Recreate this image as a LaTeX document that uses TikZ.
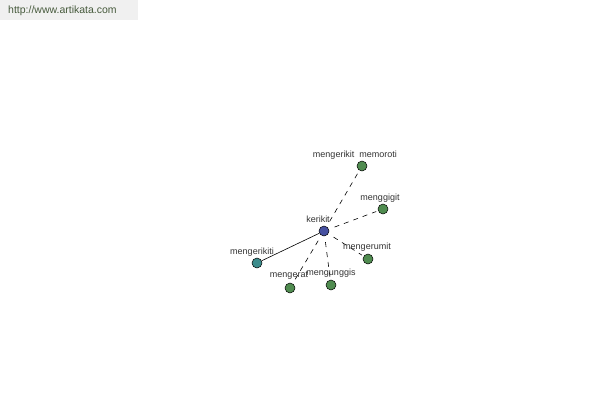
\documentclass[tikz,border=0pt]{standalone}
\usepackage{fontspec}
\setmainfont{Liberation Sans}
\begin{document}
\begin{tikzpicture}[x=1pt,y=-1pt,
  dot/.style={circle,draw=black,line width=0.5pt,minimum size=10pt,inner sep=0pt},
  lbl/.style={font=\fontsize{9}{10}\selectfont,text=black!80,inner sep=0pt},
  dsh/.style={dashed,dash pattern=on 5pt off 5pt,line width=0.6pt,shorten <=6pt,shorten >=2pt},
  sol/.style={line width=0.6pt}]
\useasboundingbox (0,0) rectangle (600,400);
\fill[black!6] (0,0) rectangle (138,20);
\node[font=\fontsize{10.5}{12}\selectfont,text={rgb,255:red,70;green,90;blue,60},anchor=west,inner sep=0pt] (url) at (8,11) {http://www.artikata.com};
\node[dot,fill={rgb,255:red,70;green,80;blue,160}] (c) at (324,231) {};
\node[dot,fill={rgb,255:red,80;green,140;blue,80}] (a) at (362,166) {};
\node[dot,fill={rgb,255:red,80;green,140;blue,80}] (b) at (383,209) {};
\node[dot,fill={rgb,255:red,80;green,140;blue,80}] (d) at (368,259) {};
\node[dot,fill={rgb,255:red,80;green,140;blue,80}] (e) at (331,285) {};
\node[dot,fill={rgb,255:red,80;green,140;blue,80}] (f) at (290,288) {};
\node[dot,fill={rgb,255:red,60;green,140;blue,140}] (g) at (257,263) {};
\draw[dsh] (c) -- (a);
\draw[dsh] (c) -- (b);
\draw[dsh] (c) -- (d);
\draw[dsh] (c) -- (e);
\draw[dsh] (c) -- (f);
\draw[sol] (c) -- (g);
\node[lbl] (lc) at (318,219) {kerikit};
\node[lbl] (la) at (355,155) {mengerikit\ \ memoroti};
\node[lbl] (lb) at (380,198) {menggigit};
\node[lbl] (ld) at (367,247) {mengerumit};
\node[lbl] (le) at (331,273) {mengunggis};
\node[lbl] (lf) at (289,276) {mengerat};
\node[lbl] (lg) at (252,252) {mengerikiti};
\end{tikzpicture}
\end{document}
